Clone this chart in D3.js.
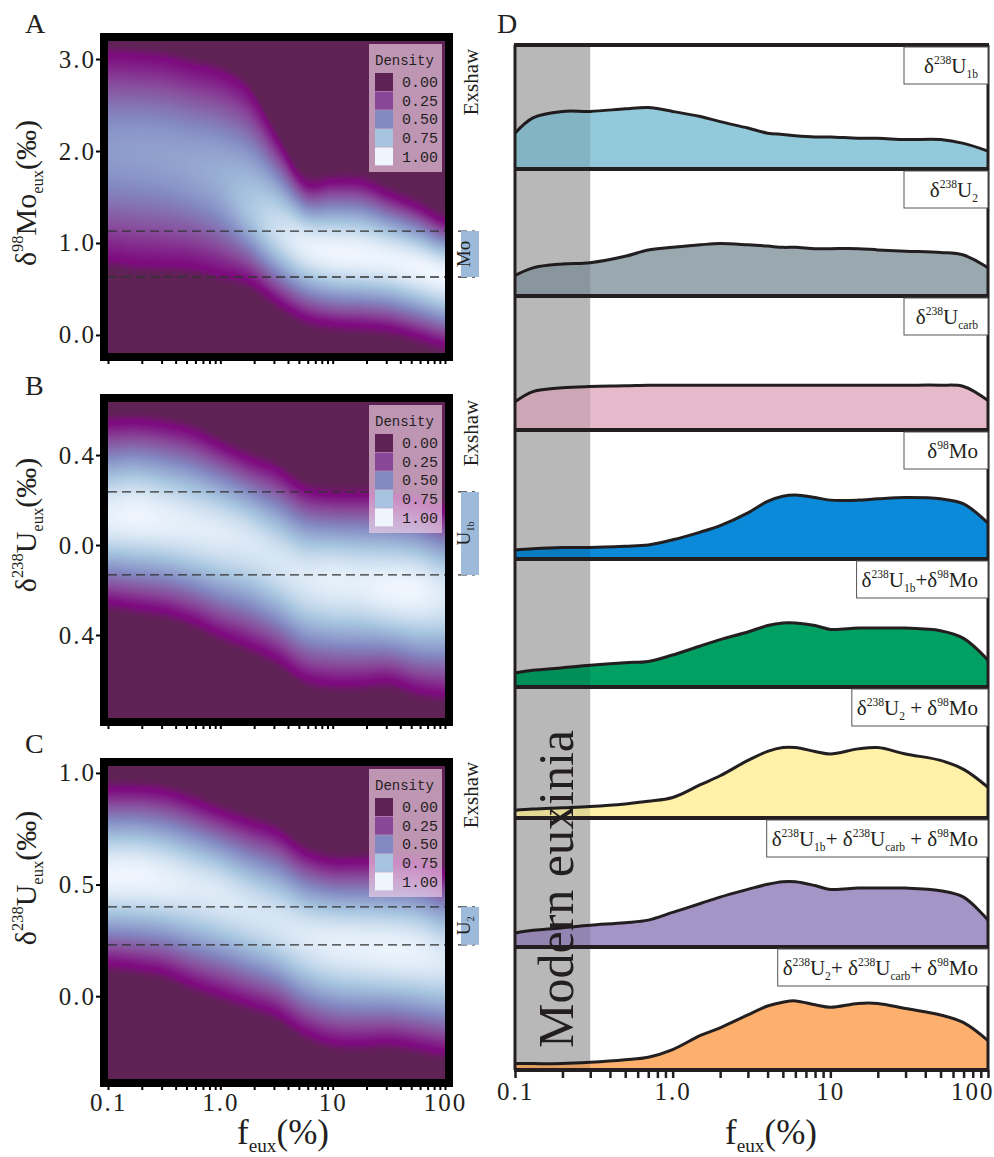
<!DOCTYPE html>
<html>
<head>
<meta charset="utf-8">
<script src="https://cdn.jsdelivr.net/npm/d3@7"></script>
<style>
  body { margin: 0; background: #fff; }
  svg { display: block; }
  text { font-family: "Liberation Serif", "Times New Roman", serif; fill: #231f20; white-space: pre; }
  .mono { font-family: "Liberation Mono", monospace; }
</style>
</head>
<body>
<svg id="chart" width="994" height="1157"></svg>
<script>
// ---- data ----

// f_eux knots (quarter decades) for the density maps
var feuxKnots = [0.1, 0.178, 0.316, 0.562, 1, 1.78, 3.16, 5.62, 10, 17.8, 31.6, 56.2, 100];

// panel A: d98Mo_eux
var aUpper  = [3.04, 3.02, 2.99, 2.91, 2.83, 2.63, 2.12, 1.65, 1.66, 1.65, 1.52, 1.39, 1.23];
var aLower  = [0.84, 0.79, 0.78, 0.76, 0.68, 0.60, 0.38, 0.20, 0.13, 0.11, 0.08, 0.00, -0.09];
var aCenter = [2.00, 2.00, 1.95, 1.85, 1.70, 1.40, 1.15, 0.98, 0.90, 0.87, 0.82, 0.74, 0.65];
var aPeak   = [0.58, 0.59, 0.60, 0.62, 0.66, 0.76, 0.88, 0.97, 1.00, 1.00, 0.99, 1.00, 1.00];
var aRange = [-0.196, 3.196];
var aTicks = [3, 2, 1, 0];
var aTickLabels = ["3.0", "2.0", "1.0", "0.0"];
var aBand = [0.63, 1.13];

// panel B: d238U_eux (U1b)
var bUpper  = [0.54, 0.545, 0.53, 0.50, 0.44, 0.38, 0.33, 0.245, 0.22, 0.22, 0.215, 0.19, 0.15];
var bLower  = [-0.25, -0.27, -0.29, -0.33, -0.39, -0.44, -0.50, -0.585, -0.61, -0.61, -0.60, -0.64, -0.66];
var bCenter = [0.125, 0.13, 0.11, 0.08, 0.05, 0.01, -0.07, -0.14, -0.155, -0.17, -0.19, -0.20, -0.22];
var bPeak   = [0.98, 1.00, 0.98, 0.96, 0.95, 0.93, 0.92, 0.94, 0.97, 0.97, 1.00, 1.00, 0.94];
var bRange = [-0.769, 0.636];
var bTicks = [0.4, 0, -0.4];
var bTickLabels = ["0.4", "0.0", "0.4"];
var bBand = [-0.133, 0.236];

// panel C: d238U_eux (U2)
var cUpper  = [0.924, 0.924, 0.91, 0.87, 0.82, 0.775, 0.73, 0.64, 0.60, 0.60, 0.60, 0.59, 0.55];
var cLower  = [0.15, 0.135, 0.113, 0.06, 0.016, -0.028, -0.073, -0.155, -0.20, -0.207, -0.20, -0.22, -0.244];
var cCenter = [0.54, 0.54, 0.52, 0.49, 0.45, 0.39, 0.33, 0.27, 0.24, 0.225, 0.21, 0.195, 0.165];
var cPeak   = [1.00, 1.00, 0.98, 0.95, 0.94, 0.92, 0.92, 0.94, 0.97, 0.98, 0.99, 0.98, 0.94];
var cRange = [-0.371, 1.031];
var cTicks = [1, 0.5, 0];
var cTickLabels = ["1.0", "0.5", "0.0"];
var cBand = [0.23, 0.40];

var densityStops = [0, 0.25, 0.5, 0.75, 1];
var densityLabels = ["0.00", "0.25", "0.50", "0.75", "1.00"];

var feuxMajor = [0.1, 1, 10, 100];
var feuxMajorLabels = ["0.1", "1.0", "10", "100"];

// panel D: normalised probability curves
var dFeux = [0.1, 0.13, 0.2, 0.3, 0.5, 0.7, 1, 1.5, 2, 3, 4, 5, 6, 8, 10, 15, 20, 30, 50, 70, 100];
var dU1b     = [.28, .40, .45, .45, .47, .48, .45, .41, .37, .32, .28, .27, .26, .25, .25, .24, .24, .23, .23, .20, .14];
var dU2      = [.16, .22, .25, .26, .31, .36, .38, .40, .41, .40, .39, .38, .38, .37, .37, .37, .36, .35, .34, .32, .22];
var dUcarb   = [.22, .30, .33, .34, .345, .35, .35, .35, .35, .35, .35, .35, .35, .35, .35, .35, .35, .35, .35, .34, .23];
var dMo      = [.07, .08, .09, .09, .10, .11, .15, .21, .26, .36, .45, .49, .50, .48, .46, .46, .47, .48, .47, .43, .28];
var dU1bMo   = [.11, .13, .15, .17, .19, .20, .25, .32, .37, .43, .48, .50, .50, .48, .45, .46, .46, .46, .44, .38, .21];
var dU2Mo    = [.06, .07, .08, .09, .11, .13, .16, .26, .33, .45, .52, .55, .55, .52, .50, .54, .55, .50, .45, .38, .24];
var dU1bCMo  = [.11, .13, .15, .17, .19, .21, .27, .34, .39, .45, .49, .51, .51, .48, .45, .46, .46, .46, .44, .39, .21];
var dU2CMo   = [.05, .05, .05, .06, .08, .10, .16, .27, .33, .43, .50, .53, .54, .51, .49, .52, .52, .48, .43, .37, .23];
var dSeries = [dU1b, dU2, dUcarb, dMo, dU1bMo, dU2Mo, dU1bCMo, dU2CMo];
var dColors = ["#92c9db", "#9aa8b0", "#e6bacb", "#0a8ad9", "#00a062", "#fff2a8", "#a594c6", "#fdb06d"];
var dLabels = [
    [["δ"], ["238", "sup"], ["U"], ["1b", "sub"]],
    [["δ"], ["238", "sup"], ["U"], ["2", "sub"]],
    [["δ"], ["238", "sup"], ["U"], ["carb", "sub"]],
    [["δ"], ["98", "sup"], ["Mo"]],
    [["δ"], ["238", "sup"], ["U"], ["1b", "sub"], ["+δ"], ["98", "sup"], ["Mo"]],
    [["δ"], ["238", "sup"], ["U"], ["2", "sub"], [" + δ"], ["98", "sup"], ["Mo"]],
    [["δ"], ["238", "sup"], ["U"], ["1b", "sub"], ["+ δ"], ["238", "sup"], ["U"], ["carb", "sub"], [" + δ"], ["98", "sup"], ["Mo"]],
    [["δ"], ["238", "sup"], ["U"], ["2", "sub"], ["+ δ"], ["238", "sup"], ["U"], ["carb", "sub"], ["+ δ"], ["98", "sup"], ["Mo"]]
];
var modernEuxinia = [0.1, 0.3];

// ---- drawing ----

var svg = d3.select("#chart");
svg.append("rect").attr("width", 994).attr("height", 1157).attr("fill", "#fff");

var densityColor = d3.scaleLinear()
    .domain([0, 0.07, 0.25, 0.5, 0.75, 1])
    .range(["#5e2354", "#7e0b7f", "#884799", "#8389c2", "#a6c4df", "#eef5fd"])
    .clamp(true);
var lut = d3.range(256).map(function (i) { return d3.rgb(densityColor(i / 255)); });

// uniform catmull-rom through the knot values, t in [0,1]
function spline(values) {
    var n = values.length - 1;
    return function (t) {
        var s = Math.max(0, Math.min(n, t * n));
        var i = Math.min(n - 1, Math.floor(s)), u = s - i;
        var p0 = values[Math.max(0, i - 1)], p1 = values[i], p2 = values[i + 1], p3 = values[Math.min(n, i + 2)];
        return 0.5 * (2 * p1 + (p2 - p0) * u + (2 * p0 - 5 * p1 + 4 * p2 - p3) * u * u + (3 * p1 - p0 - 3 * p2 + p3) * u * u * u);
    };
}

// text with super/subscripts
function richText(text, parts, size) {
    var shift = 0;
    parts.forEach(function (p) {
        var kind = p[1] || "";
        var target = kind === "sup" ? -0.42 * size : kind === "sub" ? 0.22 * size : 0;
        text.append("tspan")
            .attr("dy", target - shift)
            .attr("font-size", kind ? size * 0.55 : size)
            .text(p[0]);
        shift = target;
    });
}

var panels = [
    {letter: "A", letterY: 33, top: 41, bottom: 353, range: aRange, upper: aUpper, lower: aLower, center: aCenter, peak: aPeak,
     ticks: aTicks, tickLabels: aTickLabels, band: aBand, bandLabel: [["Mo"]], exshawY: 82, titleY: 193,
     title: [["δ"], ["98", "sup"], ["Mo"], ["eux", "sub"], ["(‰)"]], xLabels: false},
    {letter: "B", letterY: 395, top: 402, bottom: 718, range: bRange, upper: bUpper, lower: bLower, center: bCenter, peak: bPeak,
     ticks: bTicks, tickLabels: bTickLabels, band: bBand, bandLabel: [["U"], ["1b", "sub"]], exshawY: 433, titleY: 525,
     title: [["δ"], ["238", "sup"], ["U"], ["eux", "sub"], ["(‰)"]], xLabels: false},
    {letter: "C", letterY: 753, top: 766, bottom: 1079, range: cRange, upper: cUpper, lower: cLower, center: cCenter, peak: cPeak,
     ticks: cTicks, tickLabels: cTickLabels, band: cBand, bandLabel: [["U"], ["2", "sub"]], exshawY: 795, titleY: 878,
     title: [["δ"], ["238", "sup"], ["U"], ["eux", "sub"], ["(‰)"]], xLabels: true}
];

var LEFT = 108, RIGHT = 445;
var knotPos = d3.scaleLog().domain([0.1, 100]).range([0, 1]);
var SHAPE = 1.0, EK = Math.exp(-SHAPE);

panels.forEach(function (p) {
    var g = svg.append("g");
    var x = d3.scaleLog().domain([0.1, 100]).range([LEFT, RIGHT]);
    var y = d3.scaleLinear().domain(p.range).range([p.bottom, p.top]);
    var w = RIGHT - LEFT, h = p.bottom - p.top;

    var canvas = document.createElement("canvas");
    canvas.width = w;
    canvas.height = h;
    var ctx = canvas.getContext("2d");
    var img = ctx.createImageData(w, h);
    var up = spline(p.upper), lo = spline(p.lower), mid = spline(p.center), pk = spline(p.peak);

    for (var i = 0; i < w; i++) {
        var t = knotPos(x.invert(LEFT + i + 0.5));
        var hi = up(t), lw = lo(t), c = mid(t), a = pk(t);
        var hiPx = y(c) - y(hi), loPx = y(lw) - y(c);
        for (var j = 0; j < h; j++) {
            var v = y.invert(p.top + j + 0.5);
            var z, hw, d;
            if (v >= c) { z = (v - c) / (hi - c); hw = hiPx; } else { z = (c - v) / (c - lw); hw = loPx; }
            if (z <= 1) {
                d = 0.07 + (a - 0.07) * (Math.exp(-SHAPE * z * z) - EK) / (1 - EK);
            } else {
                var dp = (z - 1) * hw;
                d = 0.07 * Math.exp(-dp * dp / 45);
            }
            var col = lut[Math.max(0, Math.min(255, Math.round(d * 255)))];
            var o = (j * w + i) * 4;
            img.data[o] = col.r;
            img.data[o + 1] = col.g;
            img.data[o + 2] = col.b;
            img.data[o + 3] = 255;
        }
    }
    ctx.putImageData(img, 0, 0);
    g.append("image")
        .attr("x", LEFT).attr("y", p.top)
        .attr("width", w).attr("height", h)
        .attr("preserveAspectRatio", "none")
        .attr("href", canvas.toDataURL());

    // dashed guide lines
    g.selectAll("line.guide")
        .data(p.band)
        .enter().append("line")
        .attr("x1", LEFT).attr("x2", RIGHT + 30)
        .attr("y1", function (d) { return y(d); })
        .attr("y2", function (d) { return y(d); })
        .attr("stroke", "#333")
        .attr("stroke-width", 1.3)
        .attr("stroke-dasharray", "9,5");

    // side bar
    g.append("rect")
        .attr("x", RIGHT + 16).attr("width", 18)
        .attr("y", y(p.band[1]))
        .attr("height", y(p.band[0]) - y(p.band[1]))
        .attr("fill", "#9dbadb");
    var bl = g.append("text")
        .attr("transform", "translate(" + (RIGHT + 25) + "," + ((y(p.band[0]) + y(p.band[1])) / 2) + ") rotate(-90)")
        .attr("text-anchor", "middle")
        .attr("dy", "0.35em")
        .attr("fill", "#333");
    richText(bl, p.bandLabel, 19);

    // legend
    var lg = g.append("g").attr("transform", "translate(" + (RIGHT - 76) + "," + (p.top + 3) + ")");
    lg.append("rect")
        .attr("width", 73).attr("height", 128)
        .attr("fill", "#f2d2e8").attr("opacity", 0.65);
    lg.append("text").attr("class", "mono")
        .attr("x", 6).attr("y", 21)
        .attr("font-size", 14)
        .text("Density");
    lg.selectAll("rect.sw")
        .data(densityStops)
        .enter().append("rect")
        .attr("x", 6).attr("y", function (d, i) { return 29 + i * 18.6; })
        .attr("width", 18).attr("height", 18)
        .attr("fill", function (d) { return densityColor(d); });
    lg.selectAll("text.lab")
        .data(densityLabels)
        .enter().append("text").attr("class", "mono")
        .attr("x", 33).attr("y", function (d, i) { return 38 + i * 18.6; })
        .attr("dy", "0.35em")
        .attr("font-size", 15)
        .text(function (d) { return d; });

    // frame
    g.append("rect")
        .attr("x", LEFT - 4).attr("y", p.top - 4)
        .attr("width", w + 8).attr("height", h + 8)
        .attr("fill", "none").attr("stroke", "#000").attr("stroke-width", 8);

    // y axis
    var ya = g.append("g")
        .attr("transform", "translate(" + (LEFT - 8) + ",0)")
        .call(d3.axisLeft(y).tickValues(p.ticks).tickSize(4).tickPadding(0)
            .tickFormat(function (d, i) { return p.tickLabels[i]; }));
    ya.select(".domain").remove();
    ya.selectAll(".tick line").attr("stroke", "#000").attr("stroke-width", 2);
    ya.selectAll(".tick text")
        .attr("font-family", "Liberation Serif").attr("font-size", 25)
        .attr("letter-spacing", "2px").attr("fill", "#231f20");

    // x axis
    var xa = g.append("g")
        .attr("transform", "translate(0," + (p.bottom + 8) + ")")
        .call(d3.axisBottom(x).tickValues(x.ticks()).tickSize(3).tickPadding(3)
            .tickFormat(function (d) {
                var idx = feuxMajor.indexOf(d);
                return p.xLabels && idx >= 0 ? feuxMajorLabels[idx] : "";
            }));
    xa.select(".domain").remove();
    xa.selectAll(".tick line").attr("stroke", "#000").attr("stroke-width", 2);
    xa.selectAll(".tick text")
        .attr("font-family", "Liberation Serif").attr("font-size", 25)
        .attr("letter-spacing", "2px").attr("fill", "#231f20");

    // Exshaw label
    g.append("text")
        .attr("transform", "translate(" + (RIGHT + 26) + "," + p.exshawY + ") rotate(-90)")
        .attr("text-anchor", "middle").attr("dy", "0.35em")
        .attr("font-size", 21)
        .text("Exshaw");

    // y title
    var yt = g.append("text")
        .attr("transform", "translate(36," + p.titleY + ") rotate(-90)")
        .attr("text-anchor", "middle");
    richText(yt, p.title, 30);

    // panel letter
    g.append("text").attr("x", 25).attr("y", p.letterY).attr("font-size", 28).text(p.letter);
});

// x title under C
var xt1 = svg.append("text").attr("x", 283).attr("y", 1144).attr("text-anchor", "middle");
richText(xt1, [["f"], ["eux", "sub"], ["(%)"]], 35);

// ---- panel D ----
var xD = d3.scaleLog().domain([0.1, 100]).range([515, 988]);
var rowEdges = [45, 169, 296, 430, 559, 687, 818, 947, 1070];
var yUnit = d3.scaleLinear().domain([0, 1]).range([0, 128]);
var gD = svg.append("g");

gD.append("rect")
    .attr("x", xD(modernEuxinia[0])).attr("y", rowEdges[0])
    .attr("width", xD(modernEuxinia[1]) - xD(modernEuxinia[0]))
    .attr("height", rowEdges[8] - rowEdges[0])
    .attr("fill", "#cdcdcd");

dSeries.forEach(function (series, i) {
    var base = rowEdges[i + 1];
    var pts = dFeux.map(function (f, k) { return [f, series[k]]; });
    var area = d3.area()
        .x(function (d) { return xD(d[0]); })
        .y0(base)
        .y1(function (d) { return base - yUnit(d[1]); })
        .curve(d3.curveCatmullRom.alpha(0.5));
    var line = d3.line()
        .x(function (d) { return xD(d[0]); })
        .y(function (d) { return base - yUnit(d[1]); })
        .curve(d3.curveCatmullRom.alpha(0.5));
    gD.append("path").attr("d", area(pts)).attr("fill", dColors[i]);
    gD.append("path").attr("d", line(pts)).attr("fill", "none")
        .attr("stroke", "#231f20").attr("stroke-width", 3);
});

// darken band over the curves
gD.append("rect")
    .attr("x", xD(modernEuxinia[0])).attr("y", rowEdges[0])
    .attr("width", xD(modernEuxinia[1]) - xD(modernEuxinia[0]))
    .attr("height", rowEdges[8] - rowEdges[0])
    .attr("fill", "#000").attr("opacity", 0.1);

// frame and separators
gD.selectAll("line.sep")
    .data(rowEdges)
    .enter().append("line")
    .attr("x1", 514).attr("x2", 989)
    .attr("y1", function (d) { return d; }).attr("y2", function (d) { return d; })
    .attr("stroke", "#231f20").attr("stroke-width", 4);
[515, 988].forEach(function (xv) {
    gD.append("line")
        .attr("x1", xv).attr("x2", xv)
        .attr("y1", rowEdges[0]).attr("y2", rowEdges[8])
        .attr("stroke", "#231f20").attr("stroke-width", 3);
});

// row labels
dLabels.forEach(function (parts, i) {
    var top = rowEdges[i] + 2;
    var lab = gD.append("text")
        .attr("x", 978).attr("y", top + 26)
        .attr("text-anchor", "end");
    richText(lab, parts, 21);
    var bb = lab.node().getBBox();
    var bx = Math.min(988 - 84, bb.x - 5);
    gD.insert("rect", function () { return lab.node(); })
        .attr("x", bx).attr("y", top)
        .attr("width", 988 - bx).attr("height", 37)
        .attr("fill", "#fff").attr("stroke", "#555").attr("stroke-width", 1);
});

// Modern euxinia
gD.append("text")
    .attr("transform", "translate(573,1048) rotate(-90)")
    .attr("font-size", 50)
    .attr("fill", "#333")
    .text("Modern euxinia");

// x axis D
var xaD = gD.append("g")
    .attr("transform", "translate(0," + rowEdges[8] + ")")
    .call(d3.axisBottom(xD).tickValues(xD.ticks()).tickSize(8).tickPadding(4)
        .tickFormat(function (d) {
            var idx = feuxMajor.indexOf(d);
            return idx >= 0 ? feuxMajorLabels[idx] : "";
        }));
xaD.select(".domain").remove();
xaD.selectAll(".tick line").attr("stroke", "#231f20").attr("stroke-width", 2.5);
xaD.selectAll(".tick text")
    .attr("font-family", "Liberation Serif").attr("font-size", 25)
    .attr("letter-spacing", "2px").attr("fill", "#231f20")
    .filter(function (d) { return d === 100; })
    .attr("text-anchor", "end").attr("dx", 6);

var xt2 = svg.append("text").attr("x", 771).attr("y", 1144).attr("text-anchor", "middle");
richText(xt2, [["f"], ["eux", "sub"], ["(%)"]], 35);

svg.append("text").attr("x", 497).attr("y", 33).attr("font-size", 28).text("D");
</script>
</body>
</html>
